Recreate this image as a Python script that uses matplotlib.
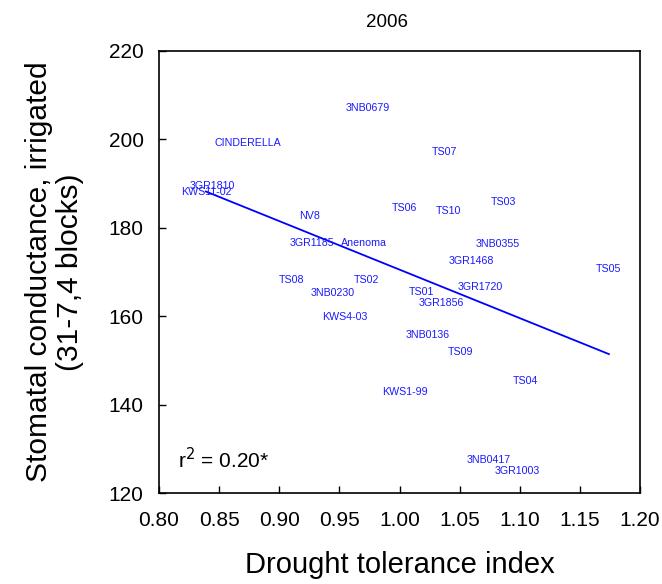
import numpy as np
import matplotlib
matplotlib.use("Agg")
import matplotlib.pyplot as plt

plt.rcParams['font.family'] = ['Liberation Sans', 'DejaVu Sans']

genotypes = ["3NB0679", "CINDERELLA", "3GR1810", "KWS11-02", "TS07", "TS06", "TS10",
             "TS03", "NV8", "3GR1185", "Anenoma", "TS08", "TS02", "3NB0230", "KWS4-03",
             "3NB0355", "3GR1468", "TS05", "3GR1720", "TS01", "3GR1856", "3NB0136",
             "TS09", "TS04", "KWS1-99", "3NB0417", "3GR1003"]
dti = [0.9738, 0.8736, 0.8441, 0.8391, 1.0370, 1.0037, 1.0403,
       1.0865, 0.9256, 0.9272, 0.9705, 0.9106, 0.9727, 0.9443, 0.9543,
       1.0819, 1.0595, 1.1740, 1.0667, 1.0179, 1.0345, 1.0231,
       1.0511, 1.1046, 1.0046, 1.0744, 1.0975]
gs = [207.1, 199.1, 189.5, 188.0, 197.1, 184.4, 183.7,
      185.8, 182.7, 176.5, 176.5, 168.2, 168.2, 165.2, 159.8,
      176.3, 172.6, 170.7, 166.5, 165.4, 162.9, 155.7,
      151.8, 145.3, 142.8, 127.5, 125.0]
x_ticks = [0.80, 0.85, 0.90, 0.95, 1.00, 1.05, 1.10, 1.15, 1.20]
y_ticks = [120, 140, 160, 180, 200, 220]

fig = plt.figure(figsize=(6.62, 5.84), dpi=100)
ax = fig.add_axes([0.240, 0.1558, 0.727, 0.7569])

x = np.array(dti)
y = np.array(gs)
for name, xi, yi in zip(genotypes, dti, gs):
    ax.text(xi, yi, name, color='#1a1aff', fontsize=7.7, ha='center', va='center')

slope, intercept = np.polyfit(x, y, 1)
xl = np.array([x.min(), x.max()])
ax.plot(xl, slope * xl + intercept, color='#0000ff', lw=1.3)

ax.set_xlim(0.8, 1.2)
ax.set_ylim(120, 220)
ax.set_xticks(x_ticks)
ax.set_xticklabels([f"{v:.2f}" for v in x_ticks])
ax.set_yticks(y_ticks)
ax.tick_params(direction='in', length=5, width=1, labelsize=15)
ax.tick_params(axis='x', pad=13)
ax.tick_params(axis='y', pad=11)
for s in ax.spines.values():
    s.set_linewidth(1.2)

ax.set_title("2006", fontsize=13.5, pad=17, x=0.474)
ax.set_xlabel("Drought tolerance index", fontsize=21, labelpad=15)
ax.set_ylabel("Stomatal conductance, irrigated\n(31-7,4 blocks)", fontsize=21.5,
              labelpad=18, linespacing=1.1)

ax.text(0.04, 0.057, r"r$^2$ = 0.20*", transform=ax.transAxes, fontsize=15,
        ha='left', va='baseline')

fig.savefig("out.png", dpi=100)
